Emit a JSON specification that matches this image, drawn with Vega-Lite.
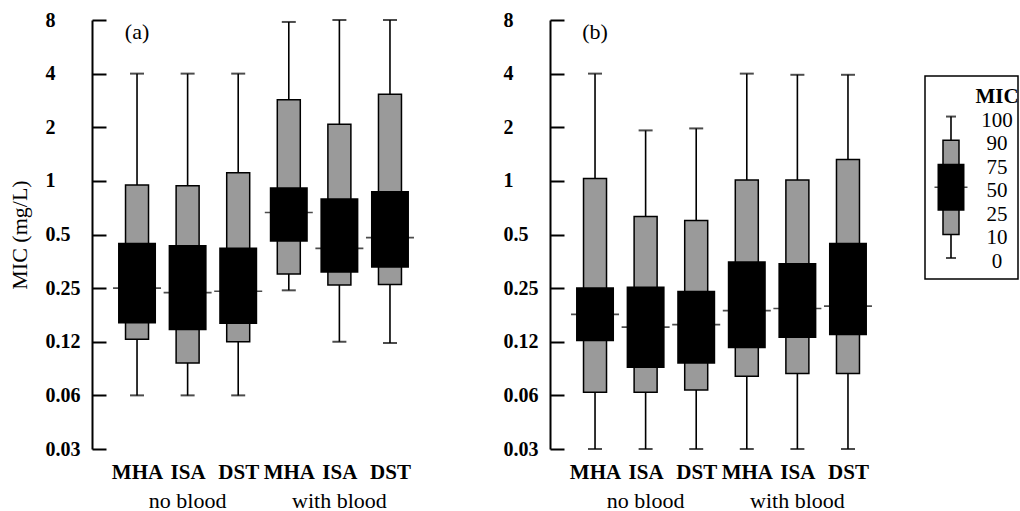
{
  "$schema": "https://vega.github.io/schema/vega-lite/v6.json",
  "padding": {"left": 8, "top": 10, "right": 0, "bottom": 0},
  "background": "white",
  "config": {
    "font": "Liberation Serif",
    "view": {"stroke": null},
    "axis": {"labelColor": "black", "titleColor": "black", "domainColor": "black", "tickColor": "black", "grid": false}
  },
  "datasets": {
    "a": [
      {"key": "MHA|no blood", "min": 0.0625, "p10": 0.129, "p25": 0.158, "med": 0.25, "p75": 0.449, "p90": 0.947, "max": 4},
      {"key": "ISA|no blood", "min": 0.0625, "p10": 0.095, "p25": 0.145, "med": 0.236, "p75": 0.436, "p90": 0.94, "max": 4},
      {"key": "DST|no blood", "min": 0.0625, "p10": 0.125, "p25": 0.157, "med": 0.24, "p75": 0.423, "p90": 1.11, "max": 4},
      {"key": "MHA|with blood", "min": 0.243, "p10": 0.30, "p25": 0.455, "med": 0.665, "p75": 0.92, "p90": 2.85, "max": 7.8},
      {"key": "ISA|with blood", "min": 0.125, "p10": 0.26, "p25": 0.305, "med": 0.418, "p75": 0.80, "p90": 2.08, "max": 8},
      {"key": "DST|with blood", "min": 0.123, "p10": 0.262, "p25": 0.325, "med": 0.48, "p75": 0.876, "p90": 3.06, "max": 8}
    ],
    "b": [
      {"key": "MHA|no blood", "min": 0.03125, "p10": 0.065, "p25": 0.126, "med": 0.178, "p75": 0.253, "p90": 1.03, "max": 4},
      {"key": "ISA|no blood", "min": 0.03125, "p10": 0.065, "p25": 0.089, "med": 0.151, "p75": 0.255, "p90": 0.63, "max": 1.92},
      {"key": "DST|no blood", "min": 0.03125, "p10": 0.067, "p25": 0.094, "med": 0.156, "p75": 0.242, "p90": 0.60, "max": 1.97},
      {"key": "MHA|with blood", "min": 0.03125, "p10": 0.080, "p25": 0.115, "med": 0.187, "p75": 0.354, "p90": 1.01, "max": 4},
      {"key": "ISA|with blood", "min": 0.03125, "p10": 0.083, "p25": 0.131, "med": 0.192, "p75": 0.346, "p90": 1.01, "max": 3.94},
      {"key": "DST|with blood", "min": 0.03125, "p10": 0.083, "p25": 0.136, "med": 0.198, "p75": 0.45, "p90": 1.32, "max": 3.94}
    ],
    "groups": [
      {"key": "ISA|no blood", "grp": "no blood"},
      {"key": "ISA|with blood", "grp": "with blood"}
    ],
    "legend": [
      {"lab": "MIC"}, {"lab": "100"}, {"lab": "90"}, {"lab": "75"}, {"lab": "50"}, {"lab": "25"}, {"lab": "10"}, {"lab": "0"}
    ],
    "one": [{}]
  },
  "hconcat": [
    {
      "hconcat": [
        {
          "width": 343,
          "height": 429,
          "data": {"name": "a"},
          "encoding": {
            "x": {"field": "key", "type": "nominal", "sort": null,
              "scale": {"type": "point", "padding": 0.89, "domain": ["MHA|no blood", "ISA|no blood", "DST|no blood", "MHA|with blood", "ISA|with blood", "DST|with blood"]},
              "axis": {"title": null, "domain": false, "ticks": false, "labelAngle": 0, "labelFontSize": 21, "labelFontWeight": "bold", "labelPadding": 12,
                "labelExpr": "split(datum.value,'|')[0]"}}
          },
          "layer": [
            {"mark": {"type": "rule", "color": "black", "strokeWidth": 1.6},
              "encoding": {
                "y": {"field": "min", "type": "quantitative",
                  "scale": {"type": "log", "base": 2, "domain": [0.03125, 8], "nice": false},
                  "axis": {"title": "MIC (mg/L)", "titleFontSize": 22, "titleFontWeight": "normal", "titlePadding": 14,
                    "values": [0.03125, 0.0625, 0.125, 0.25, 0.5, 1, 2, 4, 8],
                    "labelExpr": "datum.value < 0.2 ? format(floor(datum.value*100)/100, '.2f') : toString(datum.value)",
                    "labelFontSize": 20, "labelFontWeight": "bold", "labelAlign": "left", "labelPadding": 61,
                    "tickSize": -14, "tickWidth": 2, "domainWidth": 2}},
                "y2": {"field": "max"}}},
            {"mark": {"type": "bar", "width": 23, "fill": "#9a9a9a", "stroke": "black", "strokeWidth": 1.5},
              "encoding": {"y": {"field": "p10", "type": "quantitative"}, "y2": {"field": "p90"}}},
            {"mark": {"type": "bar", "width": 38, "fill": "black"},
              "encoding": {"y": {"field": "p25", "type": "quantitative"}, "y2": {"field": "p75"}}},
            {"mark": {"type": "tick", "color": "black", "size": 48, "thickness": 1.6},
              "encoding": {"y": {"field": "med", "type": "quantitative"}}},
            {"mark": {"type": "tick", "color": "black", "size": 14, "thickness": 2},
              "encoding": {"y": {"field": "max", "type": "quantitative"}}},
            {"mark": {"type": "tick", "color": "black", "size": 14, "thickness": 2},
              "encoding": {"y": {"field": "min", "type": "quantitative"}}},
            {"data": {"name": "one"},
              "mark": {"type": "text", "fontSize": 22, "baseline": "top", "align": "center", "dy": 2, "color": "black"},
              "encoding": {"x": {"datum": "MHA|no blood", "type": "nominal"}, "y": {"datum": 8, "type": "quantitative"}, "text": {"value": "(a)"}}},
            {"data": {"name": "groups"},
              "mark": {"type": "text", "fontSize": 22, "baseline": "top", "align": "center", "dy": 42, "color": "black"},
              "encoding": {"x": {"field": "key", "type": "nominal"}, "y": {"datum": 0.03125, "type": "quantitative"}, "text": {"field": "grp"}}}
          ]
        },
        {
          "width": 343,
          "height": 429,
          "data": {"name": "b"},
          "encoding": {
            "x": {"field": "key", "type": "nominal", "sort": null,
              "scale": {"type": "point", "padding": 0.89, "domain": ["MHA|no blood", "ISA|no blood", "DST|no blood", "MHA|with blood", "ISA|with blood", "DST|with blood"]},
              "axis": {"title": null, "domain": false, "ticks": false, "labelAngle": 0, "labelFontSize": 21, "labelFontWeight": "bold", "labelPadding": 12,
                "labelExpr": "split(datum.value,'|')[0]"}}
          },
          "layer": [
            {"mark": {"type": "rule", "color": "black", "strokeWidth": 1.6},
              "encoding": {
                "y": {"field": "min", "type": "quantitative",
                  "scale": {"type": "log", "base": 2, "domain": [0.03125, 8], "nice": false},
                  "axis": {"title": null,
                    "values": [0.03125, 0.0625, 0.125, 0.25, 0.5, 1, 2, 4, 8],
                    "labelExpr": "datum.value < 0.2 ? format(floor(datum.value*100)/100, '.2f') : toString(datum.value)",
                    "labelFontSize": 20, "labelFontWeight": "bold", "labelAlign": "left", "labelPadding": 61,
                    "tickSize": -14, "tickWidth": 2, "domainWidth": 2}},
                "y2": {"field": "max"}}},
            {"mark": {"type": "bar", "width": 23, "fill": "#9a9a9a", "stroke": "black", "strokeWidth": 1.5},
              "encoding": {"y": {"field": "p10", "type": "quantitative"}, "y2": {"field": "p90"}}},
            {"mark": {"type": "bar", "width": 38, "fill": "black"},
              "encoding": {"y": {"field": "p25", "type": "quantitative"}, "y2": {"field": "p75"}}},
            {"mark": {"type": "tick", "color": "black", "size": 48, "thickness": 1.6},
              "encoding": {"y": {"field": "med", "type": "quantitative"}}},
            {"mark": {"type": "tick", "color": "black", "size": 14, "thickness": 2},
              "encoding": {"y": {"field": "max", "type": "quantitative"}}},
            {"mark": {"type": "tick", "color": "black", "size": 14, "thickness": 2},
              "encoding": {"y": {"field": "min", "type": "quantitative"}}},
            {"data": {"name": "one"},
              "mark": {"type": "text", "fontSize": 22, "baseline": "top", "align": "center", "dy": 2, "color": "black"},
              "encoding": {"x": {"datum": "MHA|no blood", "type": "nominal"}, "y": {"datum": 8, "type": "quantitative"}, "text": {"value": "(b)"}}},
            {"data": {"name": "groups"},
              "mark": {"type": "text", "fontSize": 22, "baseline": "top", "align": "center", "dy": 42, "color": "black"},
              "encoding": {"x": {"field": "key", "type": "nominal"}, "y": {"datum": 0.03125, "type": "quantitative"}, "text": {"field": "grp"}}}
          ]
        }
      ],
      "spacing": 68
    },
    {
      "vconcat": [
        {
          "width": 93, "height": 39,
          "data": {"values": []},
          "mark": "point",
          "encoding": {}
        },
        {
          "width": 93, "height": 203,
          "view": {"stroke": "black", "strokeWidth": 1.5},
          "data": {"name": "legend"},
          "encoding": {
            "x": {"type": "nominal", "scale": {"type": "point", "domain": ["box", "text"], "padding": 0.511, "align": 0.553}, "axis": null},
            "y": {"type": "nominal", "scale": {"type": "point", "domain": ["MIC", "100", "90", "75", "50", "25", "10", "0"], "padding": 0.806, "align": 0.447}, "axis": null}
          },
          "layer": [
            {"transform": [{"filter": "datum.lab != 'MIC'"}],
              "mark": {"type": "text", "fontSize": 21, "color": "black", "baseline": "middle", "dy": 4},
              "encoding": {"x": {"datum": "text", "type": "nominal"}, "y": {"field": "lab", "type": "nominal"}, "text": {"field": "lab"}}},
            {"transform": [{"filter": "datum.lab == 'MIC'"}],
              "mark": {"type": "text", "fontSize": 21, "fontWeight": "bold", "color": "black", "baseline": "middle", "dy": 4},
              "encoding": {"x": {"datum": "text", "type": "nominal"}, "y": {"field": "lab", "type": "nominal"}, "text": {"field": "lab"}}},
            {"data": {"name": "one"},
              "mark": {"type": "rule", "color": "black", "strokeWidth": 1.6},
              "encoding": {"x": {"datum": "box", "type": "nominal"}, "y": {"datum": "100", "type": "nominal"}, "y2": {"datum": "0"}}},
            {"data": {"name": "one"},
              "mark": {"type": "bar", "width": 16, "fill": "#9a9a9a", "stroke": "black", "strokeWidth": 1.5},
              "encoding": {"x": {"datum": "box", "type": "nominal"}, "y": {"datum": "90", "type": "nominal"}, "y2": {"datum": "10"}}},
            {"data": {"name": "one"},
              "mark": {"type": "bar", "width": 27, "fill": "black"},
              "encoding": {"x": {"datum": "box", "type": "nominal"}, "y": {"datum": "75", "type": "nominal"}, "y2": {"datum": "25"}}},
            {"data": {"name": "one"},
              "mark": {"type": "tick", "color": "black", "size": 33, "thickness": 1.6, "orient": "horizontal"},
              "encoding": {"x": {"datum": "box", "type": "nominal"}, "y": {"datum": "50", "type": "nominal"}}},
            {"data": {"name": "one"},
              "mark": {"type": "tick", "color": "black", "size": 10, "thickness": 2, "orient": "horizontal"},
              "encoding": {"x": {"datum": "box", "type": "nominal"}, "y": {"datum": "100", "type": "nominal"}}},
            {"data": {"name": "one"},
              "mark": {"type": "tick", "color": "black", "size": 10, "thickness": 2, "orient": "horizontal"},
              "encoding": {"x": {"datum": "box", "type": "nominal"}, "y": {"datum": "0", "type": "nominal"}}}
          ]
        }
      ],
      "spacing": 16
    }
  ],
  "spacing": 31
}
